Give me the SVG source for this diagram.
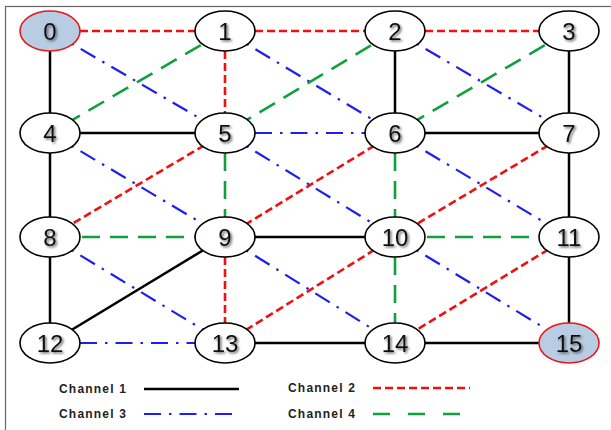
<svg xmlns="http://www.w3.org/2000/svg" width="611" height="430" viewBox="0 0 611 430">
<defs>
<filter id="sh" x="-50%" y="-50%" width="200%" height="200%">
<feDropShadow dx="1.5" dy="1.5" stdDeviation="0.9" flood-color="#555" flood-opacity="0.9"/>
</filter>
<style>
.c1{stroke:#000;stroke-width:2.5;fill:none}
.c2{stroke:#f01010;stroke-width:2.6;stroke-dasharray:8 4;fill:none}
.c3{stroke:#1e1ef0;stroke-width:2.2;stroke-dasharray:17 8 2.5 8;fill:none}
.c4{stroke:#10a040;stroke-width:2.6;stroke-dasharray:18 10;fill:none}
.n ellipse{fill:#fff;stroke:#000;stroke-width:1.6}
.n.end ellipse{fill:#b8cce4;stroke:#e81818}
.n text{font-family:"Liberation Sans",Arial,sans-serif;font-size:24px;fill:#111;text-anchor:middle;filter:url(#sh)}
.lg{font-family:"Liberation Sans",Arial,sans-serif;font-size:12px;font-weight:bold;letter-spacing:1.2px;fill:#222}
</style>
</defs>
<rect x="0" y="0" width="611" height="430" fill="#fff"/>
<rect x="5.5" y="6.5" width="620" height="440" fill="none" stroke="#666" stroke-width="1.2"/>
<g id="connectors">
<line class="c1" x1="50" y1="31" x2="50" y2="133"/>
<line class="c1" x1="50" y1="133" x2="50" y2="237"/>
<line class="c1" x1="50" y1="237" x2="50" y2="343"/>
<line class="c1" x1="50" y1="133" x2="225" y2="133"/>
<line class="c1" x1="395" y1="31" x2="395" y2="133"/>
<line class="c1" x1="569" y1="31" x2="569" y2="133"/>
<line class="c1" x1="395" y1="133" x2="569" y2="133"/>
<line class="c1" x1="569" y1="133" x2="569" y2="237"/>
<line class="c1" x1="569" y1="237" x2="569" y2="343"/>
<line class="c1" x1="225" y1="237" x2="395" y2="237"/>
<line class="c1" x1="225" y1="237" x2="50" y2="343"/>
<line class="c1" x1="225" y1="343" x2="395" y2="343"/>
<line class="c1" x1="395" y1="343" x2="569" y2="343"/>
<line class="c2" x1="80" y1="31" x2="195" y2="31"/>
<line class="c2" x1="255" y1="31" x2="365" y2="31"/>
<line class="c2" x1="425" y1="31" x2="539" y2="31"/>
<line class="c2" x1="225" y1="51" x2="225" y2="113"/>
<line class="c2" x1="225" y1="133" x2="50" y2="237"/>
<line class="c2" x1="395" y1="133" x2="225" y2="237"/>
<line class="c2" x1="569" y1="133" x2="395" y2="237"/>
<line class="c2" x1="225" y1="257" x2="225" y2="323"/>
<line class="c2" x1="395" y1="237" x2="225" y2="343"/>
<line class="c2" x1="569" y1="237" x2="395" y2="343"/>
<line class="c3" x1="50" y1="31" x2="225" y2="133"/>
<line class="c3" x1="225" y1="31" x2="395" y2="133"/>
<line class="c3" x1="395" y1="31" x2="569" y2="133"/>
<line class="c3" x1="255" y1="133" x2="365" y2="133"/>
<line class="c3" x1="50" y1="133" x2="225" y2="237"/>
<line class="c3" x1="225" y1="133" x2="395" y2="237"/>
<line class="c3" x1="395" y1="133" x2="569" y2="237"/>
<line class="c3" x1="50" y1="237" x2="225" y2="343"/>
<line class="c3" x1="225" y1="237" x2="395" y2="343"/>
<line class="c3" x1="395" y1="237" x2="569" y2="343"/>
<line class="c3" x1="80" y1="343" x2="195" y2="343"/>
<line class="c4" x1="225" y1="31" x2="50" y2="133"/>
<line class="c4" x1="395" y1="31" x2="225" y2="133"/>
<line class="c4" x1="569" y1="31" x2="395" y2="133"/>
<line class="c4" x1="225" y1="153" x2="225" y2="217"/>
<line class="c4" x1="395" y1="153" x2="395" y2="217"/>
<line class="c4" x1="82" y1="237" x2="195" y2="237"/>
<line class="c4" x1="427" y1="237" x2="539" y2="237"/>
<line class="c4" x1="395" y1="257" x2="395" y2="323"/>
</g>
<g id="n0" class="n end"><ellipse cx="50" cy="31" rx="30" ry="20"/><text x="50" y="39.5">0</text></g>
<g id="n1" class="n"><ellipse cx="225" cy="31" rx="30" ry="20"/><text x="225" y="39.5">1</text></g>
<g id="n2" class="n"><ellipse cx="395" cy="31" rx="30" ry="20"/><text x="395" y="39.5">2</text></g>
<g id="n3" class="n"><ellipse cx="569" cy="31" rx="30" ry="20"/><text x="569" y="39.5">3</text></g>
<g id="n4" class="n"><ellipse cx="50" cy="133" rx="30" ry="20"/><text x="50" y="141.5">4</text></g>
<g id="n5" class="n"><ellipse cx="225" cy="133" rx="30" ry="20"/><text x="225" y="141.5">5</text></g>
<g id="n6" class="n"><ellipse cx="395" cy="133" rx="30" ry="20"/><text x="395" y="141.5">6</text></g>
<g id="n7" class="n"><ellipse cx="569" cy="133" rx="30" ry="20"/><text x="569" y="141.5">7</text></g>
<g id="n8" class="n"><ellipse cx="50" cy="237" rx="30" ry="20"/><text x="50" y="245.5">8</text></g>
<g id="n9" class="n"><ellipse cx="225" cy="237" rx="30" ry="20"/><text x="225" y="245.5">9</text></g>
<g id="n10" class="n"><ellipse cx="395" cy="237" rx="30" ry="20"/><text x="395" y="245.5">10</text></g>
<g id="n11" class="n"><ellipse cx="569" cy="237" rx="30" ry="20"/><text x="569" y="245.5">11</text></g>
<g id="n12" class="n"><ellipse cx="50" cy="343" rx="30" ry="20"/><text x="50" y="351.5">12</text></g>
<g id="n13" class="n"><ellipse cx="225" cy="343" rx="30" ry="20"/><text x="225" y="351.5">13</text></g>
<g id="n14" class="n"><ellipse cx="395" cy="343" rx="30" ry="20"/><text x="395" y="351.5">14</text></g>
<g id="n15" class="n end"><ellipse cx="569" cy="343" rx="30" ry="20"/><text x="569" y="351.5">15</text></g>
<g id="legend">
<text class="lg" x="59" y="393">Channel 1</text>
<line class="c1" x1="144" y1="389" x2="239" y2="389"/>
<text class="lg" x="288" y="392">Channel 2</text>
<line class="c2" x1="373" y1="388" x2="470" y2="388"/>
<text class="lg" x="59" y="418">Channel 3</text>
<line class="c3" x1="144" y1="414" x2="239" y2="414"/>
<text class="lg" x="288" y="418">Channel 4</text>
<line class="c4" x1="373" y1="414" x2="470" y2="414" style="stroke-dasharray:17 18"/>
</g>
</svg>
